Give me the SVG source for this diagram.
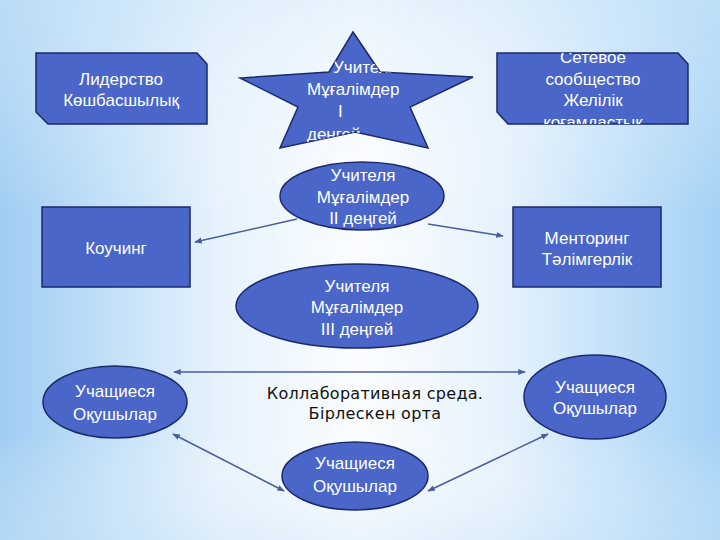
<svg xmlns="http://www.w3.org/2000/svg" width="720" height="540" viewBox="0 0 720 540">
<defs>
<linearGradient id="bg" x1="0" y1="0" x2="1" y2="0">
<stop offset="0" stop-color="#9ecdf3"/>
<stop offset="0.3" stop-color="#e6f2fc"/>
<stop offset="0.5" stop-color="#fbfdff"/>
<stop offset="0.7" stop-color="#e6f2fc"/>
<stop offset="1" stop-color="#a3d1f5"/>
</linearGradient>
<linearGradient id="bgv" x1="0" y1="0" x2="0" y2="1">
<stop offset="0" stop-color="#d6eafa" stop-opacity="0.5"/>
<stop offset="0.4" stop-color="#ffffff" stop-opacity="0"/>
<stop offset="0.8" stop-color="#ffffff" stop-opacity="0"/>
<stop offset="1" stop-color="#cfe6f8" stop-opacity="0.4"/>
</linearGradient>
<marker id="ah" viewBox="0 0 10 10" refX="9" refY="5" markerWidth="5" markerHeight="5" orient="auto-start-reverse">
<path d="M0,1 L10,5 L0,9 z" fill="#4a5f9a"/>
</marker>
<clipPath id="clipStar">
<polygon points="353,32 329,72 240,78 298,107 280,148 355,132 428,148 410,107 473,77 380,72"/>
</clipPath>
<clipPath id="clipNet">
<rect x="497" y="53" width="191" height="71"/>
</clipPath>
</defs>
<style>
.shape{fill:#4a66c8;stroke:#1c2a6b;stroke-width:1.5}
.w{fill:#ffffff;font-family:"Liberation Sans",Arial,sans-serif;font-size:17px;text-anchor:middle}
.b{fill:#111111;font-family:"DejaVu Sans",sans-serif;font-size:16px;letter-spacing:0.3px;text-anchor:middle}
.c{stroke:#4a5f9a;stroke-width:1.5;fill:none}
</style>
<rect width="720" height="540" fill="url(#bg)"/>
<rect width="720" height="540" fill="url(#bgv)"/>

<g id="connectors">
<line class="c" x1="297" y1="219" x2="195" y2="242" marker-end="url(#ah)"/>
<line class="c" x1="428" y1="224" x2="503" y2="236" marker-end="url(#ah)"/>
<line class="c" x1="174" y1="372" x2="525" y2="372" marker-start="url(#ah)" marker-end="url(#ah)"/>
<line class="c" x1="173" y1="434" x2="284" y2="491" marker-start="url(#ah)" marker-end="url(#ah)"/>
<line class="c" x1="428" y1="491" x2="548" y2="434" marker-start="url(#ah)" marker-end="url(#ah)"/>
</g>

<g id="leadership">
<polygon class="shape" points="36,53 197,53 207,64 207,124 48,124 36,112"/>
<text class="w" x="121" y="85">Лидерство</text>
<text class="w" x="121" y="106">Көшбасшылық</text>
</g>

<g id="teachers1">
<polygon class="shape" points="353,32 329,72 240,78 298,107 280,148 355,132 428,148 410,107 473,77 380,72"/>
<g clip-path="url(#clipStar)">
<text class="w" style="text-anchor:start" x="333" y="73">Учителя</text>
<text class="w" style="text-anchor:start" x="307" y="95">Мұғалімдер</text>
<text class="w" style="text-anchor:start" x="338" y="117">І</text>
<text class="w" style="text-anchor:start" x="307" y="140">деңгей</text>
</g>
</g>

<g id="network">
<polygon class="shape" points="497,53 678,53 688,64 688,124 508,124 497,112"/>
<g clip-path="url(#clipNet)">
<text class="w" x="593" y="63">Сетевое</text>
<text class="w" x="593" y="85">сообщество</text>
<text class="w" x="593" y="106">Желілік</text>
<text class="w" x="593" y="128">қоғамдастық</text>
</g>
</g>

<g id="teachers2">
<ellipse class="shape" cx="362" cy="196" rx="82" ry="34"/>
<text class="w" x="363" y="181">Учителя</text>
<text class="w" x="363" y="203">Мұғалімдер</text>
<text class="w" x="363" y="224">ІІ деңгей</text>
</g>

<g id="coaching">
<rect class="shape" x="42" y="207" width="148" height="80"/>
<text class="w" x="116" y="254">Коучинг</text>
</g>

<g id="mentoring">
<rect class="shape" x="513" y="207" width="148" height="80"/>
<text class="w" x="587" y="244">Менторинг</text>
<text class="w" x="587" y="265">Тәлімгерлік</text>
</g>

<g id="teachers3">
<ellipse class="shape" cx="357" cy="306" rx="121" ry="42"/>
<text class="w" x="357" y="292">Учителя</text>
<text class="w" x="357" y="313">Мұғалімдер</text>
<text class="w" x="357" y="335">ІІІ деңгей</text>
</g>

<g id="collab">
<text class="b" x="375" y="399">Коллаборативная среда.</text>
<text class="b" x="375" y="419">Бірлескен орта</text>
</g>

<g id="students-left">
<ellipse class="shape" cx="115" cy="402" rx="72" ry="36"/>
<text class="w" x="115" y="397">Учащиеся</text>
<text class="w" x="115" y="420">Оқушылар</text>
</g>

<g id="students-right">
<ellipse class="shape" cx="595" cy="397" rx="71" ry="42"/>
<text class="w" x="595" y="393">Учащиеся</text>
<text class="w" x="595" y="414">Оқушылар</text>
</g>

<g id="students-bottom">
<ellipse class="shape" cx="355" cy="476" rx="73" ry="34"/>
<text class="w" x="355" y="469">Учащиеся</text>
<text class="w" x="355" y="492">Оқушылар</text>
</g>
</svg>
